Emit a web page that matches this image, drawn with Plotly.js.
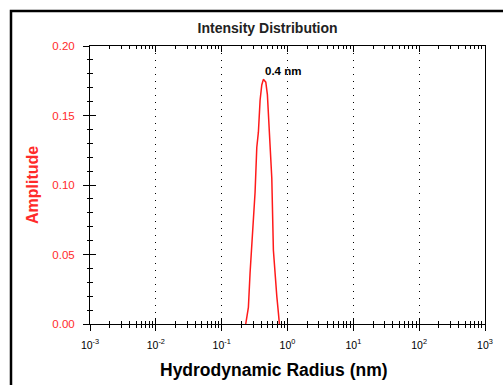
<!DOCTYPE html>
<html>
<head>
<meta charset="utf-8">
<script src="https://cdn.plot.ly/plotly-3.0.1.min.js"></script>
<style>html,body{margin:0;padding:0;background:#fff;}#chart{width:503px;height:385px;}</style>
</head>
<body>
<div id="chart"></div>
<script>
// Data
var radius = [0.232, 0.2407, 0.2546, 0.2702, 0.2867, 0.3034, 0.3219, 0.3415, 0.3612, 0.3834, 0.4068, 0.4302, 0.4680, 0.4950, 0.5254, 0.5573, 0.5772, 0.6105, 0.6479, 0.6877, 0.7273, 0.7530];
var amplitude = [0.000, 0.005, 0.012, 0.037, 0.059, 0.080, 0.095, 0.127, 0.138, 0.161, 0.172, 0.176, 0.174, 0.165, 0.137, 0.120, 0.105, 0.053, 0.032, 0.020, 0.008, 0.000];
var xTickVals = [0.001, 0.01, 0.1, 1, 10, 100, 1000];
var xTickText = ["10<sup>-3</sup>", "10<sup>-2</sup>", "10<sup>-1</sup>", "10<sup>0</sup>", "10<sup>1</sup>", "10<sup>2</sup>", "10<sup>3</sup>"];
var peakLabel = "0.4 nm";
var peakLabelRadius = 0.43;
var peakLabelAmp = 0.182;

var FONT = "Liberation Sans, Arial, sans-serif";
var red = "#ff2a2a";

var traces = [
  {x: radius, y: amplitude, type: "scatter", mode: "lines",
   line: {color: "#ff1a1a", width: 1.5}, hoverinfo: "skip", xaxis: "x", yaxis: "y"},
  {x: [0.001], y: [0], type: "scatter", mode: "markers", marker: {opacity: 0},
   hoverinfo: "skip", xaxis: "x2", yaxis: "y2", showlegend: false}
];

// frame lines in paper coords
function px2paperX(p){ return (p - 90) / 395; }
function px2paperY(p){ return (324 - p) / 278; }

var layout = {
  width: 503, height: 385,
  margin: {l: 90, r: 18, t: 46, b: 61, pad: 0},
  paper_bgcolor: "#fff", plot_bgcolor: "#fff",
  showlegend: false,
  font: {family: FONT, size: 10, color: "#000"},
  title: {text: "<b>Intensity Distribution</b>", xref: "container", x: 0.532, xanchor: "center",
          yref: "container", y: 1 - 28/385, yanchor: "middle",
          font: {family: FONT, size: 14, color: "#222"}},
  xaxis: {
    type: "log", range: [-3, 3],
    tickvals: xTickVals, ticktext: xTickText,
    ticks: "outside", ticklen: 6, tickwidth: 1, tickcolor: "#000",
    minor: {ticks: "outside", ticklen: 3, tickwidth: 1, tickcolor: "#000", dtick: "D1", showgrid: false},
    showline: true, linecolor: "#000", linewidth: 1, mirror: true,
    showgrid: true, gridcolor: "#000", gridwidth: 1, griddash: "1px,6px",
    zeroline: false, ticklabelstandoff: 5,
    tickfont: {family: FONT, size: 10.5, color: "#000"}
  },
  xaxis2: {
    type: "log", range: [-3, 3], overlaying: "x", side: "bottom",
    tickvals: xTickVals, showticklabels: false,
    ticks: "inside", ticklen: 6, tickwidth: 1, tickcolor: "#000",
    minor: {ticks: "inside", ticklen: 3, tickwidth: 1, tickcolor: "#000", dtick: "D1", showgrid: false},
    mirror: "ticks", showline: true, linecolor: "#000", showgrid: false, zeroline: false
  },
  yaxis: {
    range: [0, 0.2], dtick: 0.05, tickformat: ".2f",
    ticks: "outside", ticklen: 6, tickwidth: 1, tickcolor: "#000",
    minor: {ticks: "outside", ticklen: 2, tickwidth: 1, tickcolor: "#000", dtick: 0.01, showgrid: false},
    showline: true, linecolor: "#000", linewidth: 1, mirror: true,
    showgrid: false, zeroline: false, ticklabelstandoff: 6,
    tickfont: {family: FONT, size: 11.5, color: red}
  },
  yaxis2: {
    range: [0, 0.2], dtick: 0.05, overlaying: "y", side: "left",
    showticklabels: false,
    ticks: "inside", ticklen: 6, tickwidth: 1, tickcolor: "#000",
    minor: {ticks: "inside", ticklen: 3, tickwidth: 1, tickcolor: "#000", dtick: 0.01, showgrid: false},
    showline: false, showgrid: false, zeroline: false
  },
  annotations: [{
    x: Math.log10(peakLabelRadius), y: peakLabelAmp, xref: "x", yref: "y",
    text: "<b>" + peakLabel + "</b>", showarrow: false, xanchor: "left", yanchor: "middle",
    font: {family: FONT, size: 11.5, color: "#000"}
  }, {
    x: px2paperX(273.5), y: px2paperY(370), xref: "paper", yref: "paper",
    text: "<b>Hydrodynamic Radius (nm)</b>", showarrow: false, xanchor: "center", yanchor: "middle",
    font: {family: FONT, size: 17.5, color: "#000"}
  }, {
    x: px2paperX(32), y: px2paperY(185), xref: "paper", yref: "paper", textangle: -90,
    text: "<b>Amplitude</b>", showarrow: false, xanchor: "center", yanchor: "middle",
    font: {family: FONT, size: 16, color: red}
  }],
  shapes: [{
    type: "path", xref: "paper", yref: "paper",
    path: "M " + px2paperX(11) + " " + px2paperY(390) + " L " + px2paperX(11) + " " + px2paperY(11) +
          " L " + px2paperX(510) + " " + px2paperY(11),
    line: {color: "#000", width: 2.5}
  }]
};

Plotly.newPlot("chart", traces, layout, {staticPlot: true, displayModeBar: false});
</script>
</body>
</html>
